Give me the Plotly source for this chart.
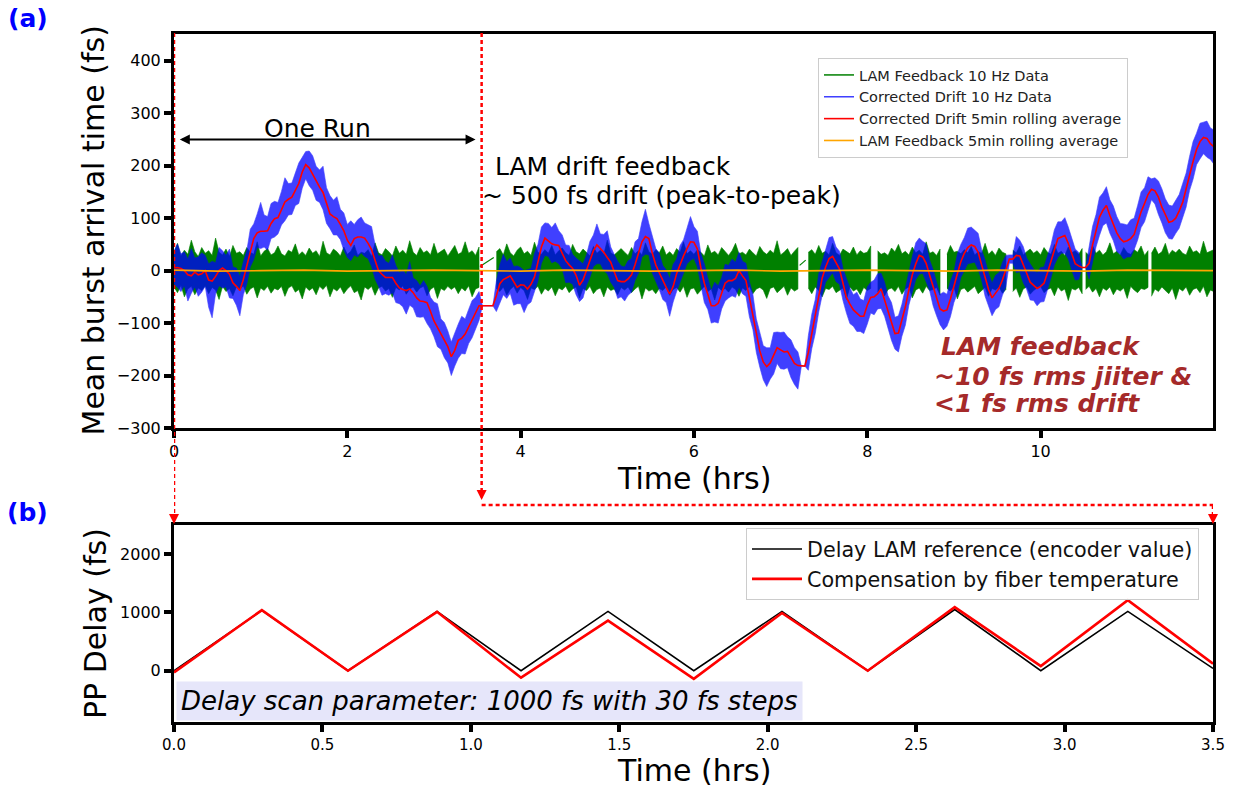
import plotly.graph_objects as go

# ---------------- panel (a): data on a 0.04 h grid ----------------
grid_step_h = 0.04

# Corrected drift, 5 min rolling average (fs)
drift_avg = [5, 6, 4, 0, -8, -10, -3, -8, -6, 0,
             -18, -20, -11, 0, 5, 0, -7, -23, -30, -38,
             -17, 8, 38, 61, 72, 75, 75, 76, 90, 99,
             101, 115, 131, 136, 140, 153, 166, 188, 202, 196,
             183, 170, 159, 149, 130, 108, 103, 99, 88, 76,
             58, 48, 61, 64, 64, 62, 52, 40, 20, 0,
             -7, -13, -13, -13, -24, -33, -36, -38, -35, -42,
             -52, -58, -59, -61, -78, -96, -108, -121, -132, -145,
             -164, -152, -133, -129, -121, -108, -95, -81, -67, -67,
             -67, -67, -67, -48, -25, -17, -13, -10, -21, -32,
             -27, -28, -35, -26, -12, 18, 45, 62, 56, 51,
             49, 48, 33, 19, 11, 4, -9, -28, -18, 1,
             20, 38, 49, 42, 35, 25, 16, -2, -19, -21,
             -21, -16, -8, 11, 31, 55, 65, 61, 33, 11,
             -4, -19, -32, -45, -30, -6, 12, 28, 42, 55,
             54, 41, 5, -24, -45, -67, -67, -62, -43, -24,
             -19, -19, -15, 0, -10, -19, -51, -83, -121, -153,
             -174, -183, -176, -162, -147, -151, -155, -154, -167, -177,
             -181, -182, -182, -156, -119, -84, -48, -14, 7, 23,
             27, 15, 3, -24, -51, -64, -75, -81, -87, -87,
             -66, -51, -50, -44, -35, -56, -76, -98, -120, -119,
             -94, -69, -37, -8, 13, 29, 26, 14, -9, -32,
             -53, -73, -77, -75, -54, -32, -6, 17, 33, 44,
             49, 46, 35, 11, -13, -36, -52, -44, -34, -18,
             0, 22, 22, 29, 28, 13, -5, -22, -28, -34,
             -30, -24, -4, 19, 40, 61, 64, 67, 52, 34,
             13, 9, 6, 6, 14, 49, 76, 102, 115, 124,
             105, 88, 72, 61, 55, 57, 61, 69, 91, 112,
             128, 145, 155, 152, 140, 121, 107, 92, 94, 100,
             114, 130, 156, 184, 208, 231, 246, 254, 252, 242,
             236]

# Corrected drift 10 Hz data: max above / min below the rolling average in each bin (fs)
drift_up = [32, 45, 28, 36, 30, 52, 27, 34, 40, 29,
            31, 38, 26, 44, 33, 29, 48, 30, 35, 27,
            34, 30, 41, 28, 36, 55, 31, 27, 38, 33,
            29, 36, 46, 30, 27, 34, 39, 28, 25, 32,
            36, 29, 33, 50, 28, 35, 31, 42, 29, 34,
            30, 47, 27, 33, 38, 29, 35, 44, 30, 28,
            36, 31, 27, 43, 34, 29, 38, 30, 52, 28,
            33, 29, 40, 31, 27, 36, 45, 29, 33, 30,
            28, 35, 31, 42, 29, 34, 38, 30, 27, 0,
            0, 0, 0, 28, 36, 48, 30, 34, 29, 41,
            33, 28, 37, 30, 45, 32, 38, 29, 34, 31,
            42, 28, 35, 30, 37, 27, 33, 46, 31, 29,
            36, 30, 40, 28, 34, 51, 29, 33, 37, 30,
            28, 35, 31, 44, 30, 38, 52, 29, 34, 31,
            37, 29, 33, 30, 42, 28, 36, 31, 39, 48,
            30, 34, 28, 37, 31, 29, 45, 33, 30, 36,
            29, 41, 31, 35, 28, 33, 30, 38, 29, 34,
            31, 36, 29, 44, 30, 33, 38, 28, 35, 30,
            26, 0, 0, 32, 36, 29, 42, 31, 35, 40,
            38, 30, 34, 28, 36, 31, 29, 40, 33, 30,
            35, 29, 32, 38, 30, 34, 28, 37, 31, 33,
            30, 36, 29, 35, 40, 33, 30, 37, 29, 34,
            31, 28, 36, 30, 34, 29, 38, 33, 30, 37,
            34, 30, 36, 29, 33, 31, 28, 35, 30, 34,
            29, 8, 8, 36, 30, 33, 29, 35, 31, 30,
            36, 31, 34, 30, 38, 32, 29, 34, 31, 30,
            28, 26, 0, 0, 30, 35, 31, 38, 33, 36,
            30, 35, 31, 29, 34, 30, 36, 31, 33, 38,
            30, 34, 20, 25, 31, 35, 30, 33, 29, 34,
            31, 36, 30, 34, 38, 31, 35, 29, 33, 30,
            32]

drift_dn = [30, 38, 44, 29, 50, 33, 28, 41, 35, 30,
            52, 70, 33, 29, 38, 31, 45, 30, 36, 48,
            29, 34, 31, 40, 28, 33, 30, 37, 29, 35,
            31, 28, 36, 30, 33, 29, 38, 31, 27, 34,
            30, 36, 29, 33, 40, 28, 35, 31, 29, 37,
            33, 29, 31, 38, 30, 35, 29, 32, 36, 30,
            40, 31, 34, 29, 37, 30, 33, 45, 31, 29,
            36, 31, 29, 40, 33, 30, 37, 29, 34, 31,
            36, 30, 34, 29, 38, 31, 33, 30, 28, 0,
            0, 0, 0, 30, 37, 29, 40, 33, 45, 31,
            36, 52, 30, 34, 29, 38, 31, 33, 29, 36,
            31, 35, 29, 42, 33, 30, 37, 31, 34, 29,
            33, 30, 36, 29, 35, 31, 38, 30, 34, 29,
            37, 31, 33, 30, 36, 29, 34, 31, 38, 30,
            32, 36, 29, 42, 30, 34, 31, 33, 29, 35,
            31, 34, 30, 37, 29, 33, 31, 38, 30, 34,
            33, 29, 36, 31, 34, 30, 37, 29, 35, 31,
            34, 38, 31, 35, 30, 36, 33, 31, 37, 40,
            45, 0, 0, 34, 30, 36, 31, 33, 29, 35,
            31, 36, 29, 33, 30, 37, 31, 35, 29, 33,
            36, 30, 34, 29, 37, 31, 33, 35, 30, 36,
            31, 35, 29, 33, 30, 36, 31, 34, 29, 35,
            33, 30, 36, 31, 34, 29, 37, 30, 33, 31,
            35, 30, 33, 29, 36, 31, 34, 30, 35, 29,
            31, 8, 8, 33, 30, 36, 31, 34, 29, 33,
            30, 35, 31, 33, 29, 36, 31, 34, 30, 33,
            31, 26, 0, 0, 30, 33, 31, 35, 29, 33,
            34, 31, 36, 30, 33, 31, 35, 29, 33, 30,
            35, 31, 20, 25, 33, 30, 35, 31, 34, 29,
            33, 30, 35, 31, 34, 29, 33, 31, 36, 30,
            33]

# LAM feedback 10 Hz data: max / min in each bin (fs); bins inside gaps are not drawn
fb_hi = [34, 52, 28, 39, 31, 58, 36, 27, 44, 33,
         38, 29, 62, 35, 30, 41, 27, 48, 33, 36,
         29, 44, 35, 31, 55, 28, 37, 42, 30, 34,
         47, 32, 28, 39, 35, 51, 30, 36, 29, 43,
         33, 38, 27, 56, 34, 30, 41, 36, 28, 45,
         31, 37, 49, 29, 35, 33, 40, 27, 53, 34,
         30, 42, 36, 28, 47, 33, 39, 31, 57, 35,
         29, 44, 34, 38, 30, 52, 32, 36, 41, 28,
         37, 48, 31, 35, 55, 33, 38, 29, 45, 0,
         0, 0, 0, 36, 42, 30, 51, 34, 28, 39,
         45, 32, 37, 29, 54, 35, 31, 40, 33, 48,
         30, 38, 43, 34, 29, 50, 36, 32, 41, 35,
         28, 46, 33, 39, 31, 58, 34, 30, 37, 42,
         35, 29, 44, 32, 38, 30, 53, 36, 31, 40,
         34, 47, 30, 36, 29, 42, 35, 55, 32, 38,
         31, 40, 35, 28, 49, 33, 37, 30, 44, 36,
         29, 38, 52, 32, 35, 30, 41, 34, 28, 46,
         36, 31, 39, 33, 57, 30, 35, 42, 29, 37,
         44, 0, 0, 35, 40, 31, 48, 33, 37, 30,
         52, 34, 29, 41, 36, 32, 45, 30, 38, 33,
         35, 47, 0, 38, 31, 34, 29, 43, 36, 50,
         32, 37, 30, 45, 34, 39, 31, 55, 33, 36,
         29, 41, 0, 31, 48, 35, 37, 32, 40, 34,
         46, 30, 36, 33, 52, 31, 38, 29, 43, 35,
         32, 0, 39, 34, 47, 30, 36, 41, 33, 38,
         30, 44, 35, 31, 50, 33, 37, 29, 45, 34,
         38, 31, 42, 35, 29, 48, 33, 39, 30, 36,
         53, 32, 37, 30, 44, 34, 31, 40, 35, 47,
         29, 38, 33, 45, 31, 36, 52, 30, 39, 34,
         41, 33, 30, 47, 35, 38, 31, 56, 34, 37,
         40]

fb_lo = [-31, -42, -28, -50, -35, -30, -46, -33, -38, -29,
         -44, -32, -37, -55, -30, -40, -34, -48, -31, -36,
         -29, -45, -35, -31, -52, -33, -38, -30, -43, -34,
         -37, -30, -49, -33, -29, -41, -36, -54, -31, -38,
         -33, -46, -30, -36, -28, -50, -34, -39, -31, -44,
         -35, -29, -42, -38, -56, -31, -36, -30, -47, -33,
         -30, -39, -34, -51, -32, -37, -29, -45, -35, -31,
         -41, -33, -30, -48, -36, -31, -53, -34, -38, -30,
         -36, -31, -44, -33, -39, -29, -50, -35, -32, 0,
         0, 0, 0, -34, -40, -31, -47, -36, -30, -43,
         -32, -38, -55, -33, -36, -30, -45, -34, -39, -31,
         -48, -33, -37, -30, -42, -35, -31, -52, -34, -38,
         -30, -44, -36, -33, -50, -31, -38, -35, -46, -32,
         -37, -31, -42, -35, -30, -54, -33, -39, -36, -44,
         -34, -38, -31, -47, -36, -32, -41, -30, -51, -35,
         -33, -45, -37, -30, -40, -35, -56, -32, -38, -34,
         -41, -31, -36, -49, -33, -38, -30, -44, -35, -32,
         -37, -53, -34, -31, -42, -36, -30, -47, -33, -39,
         -35, 0, 0, -33, -44, -31, -38, -50, -34, -36,
         -30, -42, -37, -33, -55, -31, -39, -35, -46, -32,
         -38, -34, 0, -41, -31, -48, -36, -33, -40, -30,
         -45, -35, -31, -52, -37, -33, -43, -30, -38, -36,
         -32, -47, 0, -34, -39, -31, -54, -36, -33, -41,
         -35, -30, -44, -38, -32, -49, -34, -37, -31, -43,
         -36, 0, -40, -33, -51, -35, -31, -45, -38, -33,
         -30, -42, -36, -33, -48, -31, -39, -35, -57, -34,
         -37, -32, -44, -36, -30, -41, -34, -50, -33, -38,
         -31, -46, -35, -39, -33, -53, -30, -37, -42, -34,
         -36, -32, -49, -35, -40, -31, -38, -44, -33, -55,
         -34, -39, -31, -47, -36, -33, -42, -30, -50, -37,
         -40]

fb_gaps = [(3.53, 3.69), (7.21, 7.29), (8.06, 8.09), (8.86, 8.89),
           (9.62, 9.66), (10.52, 10.56), (11.28, 11.32)]
gap_line_t = [3.53, 3.69, None, 7.22, 7.29]
gap_line_v = [8, 25, None, 10, 20]

fb_avg_t = [0, 0.5, 1, 1.5, 2, 2.5, 3, 3.5, 4, 4.5, 5, 5.5, 6, 6.5, 7, 7.5,
            8, 8.5, 9, 9.5, 10, 10.5, 11, 11.5, 12]
fb_avg = [1, -1, 0, 1, -1, 0, 1, 0, -1, 1, 0, -1, 0, 1, -1, 0,
          1, 0, -1, 1, 0, -1, 1, 0, 0]

# ---------------- panel (b): delay scan ----------------
scan_t = [0, 0.296, 0.586, 0.886, 1.169, 1.462, 1.751, 2.048, 2.337, 2.63, 2.92, 3.213, 3.5]
enc_ref = [0, 1035, 0, 1017, 0, 1017, 0, 1017, 0, 1050, 0, 1017, 40]
fiber_comp = [-30, 1040, 0, 1010, -120, 860, -140, 990, 0, 1090, 80, 1210, 120]

top_xticks = [0, 2, 4, 6, 8, 10]
top_yticks = [-300, -200, -100, 0, 100, 200, 300, 400]
bot_xticks = [0, 0.5, 1.0, 1.5, 2.0, 2.5, 3.0, 3.5]
bot_yticks = [0, 1000, 2000]

# ---------------- build figure ----------------
W, H = 1237, 787
def py(px):  # pixel row -> paper y
    return 1 - px / H

grid_t = [round(grid_step_h * i, 2) for i in range(len(drift_avg))]

fig = go.Figure()

# legend-only line samples
fig.add_trace(go.Scatter(x=[None], y=[None], mode='lines', name='LAM Feedback 10 Hz Data',
                         line=dict(color='green', width=1.5), legend='legend'))
fig.add_trace(go.Scatter(x=[None], y=[None], mode='lines', name='Corrected Drift 10 Hz Data',
                         line=dict(color='rgba(0,0,255,0.75)', width=1.5), legend='legend'))

# green band, split at acquisition gaps
segs = {}
for t, h, l in zip(grid_t, fb_hi, fb_lo):
    if any(g0 < t < g1 for g0, g1 in fb_gaps):
        continue
    sid = sum(1 for g0, _ in fb_gaps if t >= g0)
    segs.setdefault(sid, []).append((t, h, l))
gx, gy = [], []
for sid in sorted(segs):
    pts = segs[sid]
    xs = [p[0] for p in pts]
    gx += xs + xs[::-1] + [None]
    gy += [p[1] for p in pts] + [p[2] for p in pts][::-1] + [None]
fig.add_trace(go.Scatter(x=gx, y=gy, mode='lines', fill='toself', fillcolor='green',
                         line=dict(color='green', width=0.6), showlegend=False, hoverinfo='skip'))
fig.add_trace(go.Scatter(x=gap_line_t, y=gap_line_v, mode='lines',
                         line=dict(color='green', width=1.2), showlegend=False, hoverinfo='skip'))

# blue band (corrected drift 10 Hz data)
b_hi = [a + u for a, u in zip(drift_avg, drift_up)]
b_lo = [a - d for a, d in zip(drift_avg, drift_dn)]
fig.add_trace(go.Scatter(x=grid_t + grid_t[::-1], y=b_hi + b_lo[::-1], mode='lines',
                         fill='toself', fillcolor='blue', line=dict(color='blue', width=0.6),
                         opacity=0.75, showlegend=False, hoverinfo='skip'))

fig.add_trace(go.Scatter(x=grid_t, y=drift_avg, mode='lines',
                         name='Corrected Drift 5min rolling average',
                         line=dict(color='red', width=1.6), legend='legend'))
fig.add_trace(go.Scatter(x=fb_avg_t, y=fb_avg, mode='lines',
                         name='LAM Feedback 5min rolling average',
                         line=dict(color='orange', width=1.6), legend='legend'))

# panel (b)
fig.add_trace(go.Scatter(x=scan_t, y=enc_ref, mode='lines', xaxis='x2', yaxis='y2',
                         name='Delay LAM reference (encoder value)',
                         line=dict(color='black', width=1.6), legend='legend2'))
fig.add_trace(go.Scatter(x=scan_t, y=fiber_comp, mode='lines', xaxis='x2', yaxis='y2',
                         name='Compensation by fiber temperature',
                         line=dict(color='red', width=2.6), legend='legend2'))

ax_common = dict(showline=True, linewidth=3, linecolor='black', mirror=True,
                 ticks='outside', ticklen=7, tickwidth=4, tickcolor='black',
                 showgrid=False, zeroline=False, automargin=False,
                 tickfont=dict(size=16, color='black'))
xdom = [174 / W, 1213 / W]

fig.update_layout(
    width=W, height=H, margin=dict(l=0, r=0, t=0, b=0, autoexpand=False),
    paper_bgcolor='white', plot_bgcolor='white',
    font=dict(family='DejaVu Sans', color='black'),
    xaxis=dict(domain=xdom, range=[0, 11.99], tickvals=top_xticks, anchor='y', **ax_common),
    yaxis=dict(domain=[py(428), py(33.5)], range=[-300, 452], tickvals=top_yticks, anchor='x', **ax_common),
    xaxis2=dict(domain=xdom, range=[0, 3.5], tickvals=bot_xticks, tickformat='.1f', anchor='y2',
                **{**ax_common, 'tickfont': dict(size=15, color='black')}),
    yaxis2=dict(domain=[py(722), py(525)], range=[-880, 2500], tickvals=bot_yticks, anchor='x2', **ax_common),
    legend=dict(x=818 / W, y=py(58), xanchor='left', yanchor='top',
                bgcolor='rgba(255,255,255,0.8)', bordercolor='#cccccc', borderwidth=1,
                font=dict(size=14.5, color='#222')),
    legend2=dict(x=746 / W, y=py(528), xanchor='left', yanchor='top', itemwidth=50,
                 bgcolor='rgba(255,255,255,0.8)', bordercolor='#cccccc', borderwidth=1,
                 font=dict(size=20.7, color='#111')),
)

red_dash = dict(color='red', width=2.5, dash='4px,3px')
fig.add_shape(type='line', xref='x', yref='paper', x0=0, x1=0, y0=py(33), y1=py(518), line=red_dash)
fig.add_shape(type='line', xref='x', yref='paper', x0=3.55, x1=3.55, y0=py(33), y1=py(495), line=red_dash)
fig.add_shape(type='line', xref='x', yref='paper', x0=3.55, x1=11.99, y0=py(505), y1=py(505), line=red_dash)
fig.add_shape(type='line', xref='x', yref='paper', x0=11.99, x1=11.99, y0=py(505), y1=py(518), line=red_dash)

ann = []
for xv, yp in [(0, 524), (3.55, 500), (11.99, 524)]:
    ann.append(dict(xref='x', yref='paper', x=xv, y=py(yp), ax=0, ay=-9, text='',
                    showarrow=True, arrowhead=2, arrowsize=1, arrowwidth=2, arrowcolor='red'))
# One Run double arrow
ann.append(dict(xref='x', yref='y', x=3.48, y=250, axref='x', ayref='y', ax=0.05, ay=250, text='',
                showarrow=True, arrowhead=2, startarrowhead=2, arrowside='end+start',
                arrowsize=1, arrowwidth=2, arrowcolor='black'))
ann.append(dict(xref='x', yref='y', x=1.66, y=271, text='One Run', showarrow=False,
                font=dict(size=25, color='black'), xanchor='center', yanchor='middle'))
ann.append(dict(xref='x', yref='y', x=3.68, y=198, text='LAM drift feedback', showarrow=False,
                font=dict(size=25, color='black'), xanchor='left', yanchor='middle'))
ann.append(dict(xref='x', yref='y', x=3.53, y=143, text='~ 500 fs drift (peak-to-peak)', showarrow=False,
                font=dict(size=25, color='black'), xanchor='left', yanchor='middle'))
brown = '#a52a2a'
for txt, xv, yv in [('LAM feedback', 8.83, -144), ('~10 fs rms jiiter &', 8.75, -201),
                    ('<1 fs rms drift', 8.75, -254)]:
    ann.append(dict(xref='x', yref='y', x=xv, y=yv, text='<b><i>' + txt.replace('<', '&lt;') + '</i></b>',
                    showarrow=False, font=dict(size=25, color=brown), xanchor='left', yanchor='middle'))
# delay scan box
ann.append(dict(xref='paper', yref='paper', x=176 / W, y=py(700.5), xanchor='left', yanchor='middle',
                text='<i>Delay scan parameter: 1000 fs with 30 fs steps</i>', showarrow=False,
                font=dict(size=26, color='black'), bgcolor='#e6e6fa', borderpad=4))
# axis titles
ann.append(dict(xref='paper', yref='paper', x=92.5 / W, y=py(231), text='Mean burst arrival time (fs)',
                textangle=-90, showarrow=False, font=dict(size=30), xanchor='center', yanchor='middle'))
ann.append(dict(xref='paper', yref='paper', x=693.5 / W, y=py(478), text='Time (hrs)',
                showarrow=False, font=dict(size=30), xanchor='center', yanchor='middle'))
ann.append(dict(xref='paper', yref='paper', x=95 / W, y=py(624), text='PP Delay (fs)',
                textangle=-90, showarrow=False, font=dict(size=30), xanchor='center', yanchor='middle'))
ann.append(dict(xref='paper', yref='paper', x=693.5 / W, y=py(770), text='Time (hrs)',
                showarrow=False, font=dict(size=30), xanchor='center', yanchor='middle'))
# panel labels
ann.append(dict(xref='paper', yref='paper', x=28 / W, y=py(18), text='<b>(a)</b>', showarrow=False,
                font=dict(size=25, color='blue'), xanchor='center', yanchor='middle'))
ann.append(dict(xref='paper', yref='paper', x=28 / W, y=py(512), text='<b>(b)</b>', showarrow=False,
                font=dict(size=25, color='blue'), xanchor='center', yanchor='middle'))
fig.update_layout(annotations=ann)

fig.write_html('out.html')
